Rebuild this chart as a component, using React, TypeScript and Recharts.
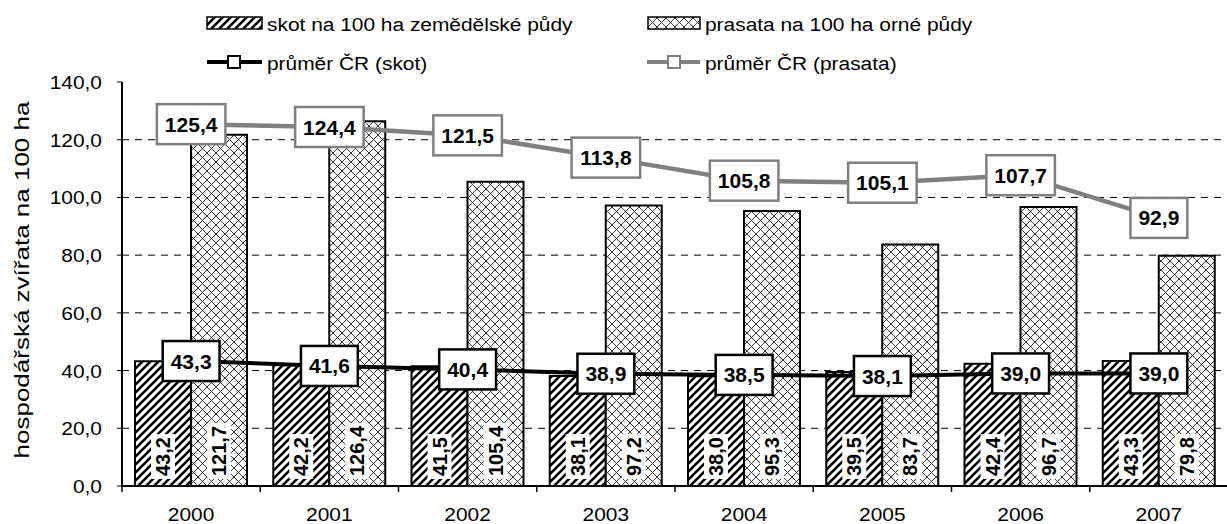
import { ComposedChart, Bar, Line, XAxis, YAxis, CartesianGrid, LabelList } from 'recharts'

const YEARS = ['2000', '2001', '2002', '2003', '2004', '2005', '2006', '2007']
const SKOT = [43.2, 42.2, 41.5, 38.1, 38.0, 39.5, 42.4, 43.3]
const PRASATA = [121.7, 126.4, 105.4, 97.2, 95.3, 83.7, 96.7, 79.8]
const AVG_SKOT = [43.3, 41.6, 40.4, 38.9, 38.5, 38.1, 39.0, 39.0]
const AVG_PRASATA = [125.4, 124.4, 121.5, 113.8, 105.8, 105.1, 107.7, 92.9]
const Y_TICKS = [0, 20, 40, 60, 80, 100, 120, 140]
const GRID_VALUES = [20, 40, 60, 80, 100, 120]

const FONT = '"Liberation Sans", Arial, sans-serif'
const CHART_W = 1228
const CHART_H = 524
const YAXIS_W = 122
const XAXIS_H = 38
const MARGIN = { top: 82, right: 0, bottom: 0, left: 0 }
const HALF_BAND = (CHART_W - YAXIS_W - MARGIN.right - MARGIN.left) / YEARS.length / 2
const FS = 19
const SX = 1.1 // the regular text in the source is a bit wide

const data = YEARS.map((year, i) => ({
  year,
  skot: SKOT[i],
  prasata: PRASATA[i],
  avgSkot: AVG_SKOT[i],
  avgPrasata: AVG_PRASATA[i],
}))

const fmt = (v: number) => v.toFixed(1).replace('.', ',')
const textW = (s: string, size: number) =>
  [...s].reduce((w, c) => w + (c === ',' ? 0.278 : 0.556) * size, 0)

function WText({ x, y, anchor = 'start', rotate = 0, size = FS, sx = SX, children }: any) {
  return (
    <text
      transform={`translate(${x},${y}) rotate(${rotate}) scale(${sx},1)`}
      textAnchor={anchor}
      fontSize={size}
      fill="#000"
      fontFamily={FONT}
    >
      {children}
    </text>
  )
}

// box around the average values
const boxLabel = (border: string) => (props: any) => {
  const { x, y, value } = props
  if (value == null) return null
  const s = fmt(Number(value))
  const w = textW(s, 21) + 16
  const h = 40
  return (
    <g>
      <rect x={x - w / 2} y={y - h / 2} width={w} height={h} fill="#fff" stroke={border} strokeWidth={2.5} />
      <text x={x} y={y + 7.5} textAnchor="middle" fontSize={21} fontWeight="bold" fill="#000" fontFamily={FONT}>
        {s}
      </text>
    </g>
  )
}

// vertical label at the foot of each bar
const barLabel = (props: any) => {
  const { x, y, width, height, value } = props
  if (value == null) return null
  const s = fmt(Number(value))
  const len = textW(s, 20)
  const cx = x + width / 2
  const bottom = y + height - 10
  return (
    <g transform={`translate(${cx},${bottom}) rotate(-90)`}>
      <rect x={-3} y={-12} width={len + 6} height={24} fill="#fff" />
      <text x={0} y={7} fontSize={20} fontWeight="bold" fill="#000" fontFamily={FONT}>
        {s}
      </text>
    </g>
  )
}

const XTick = (props: any) => {
  const { x, y, payload, index } = props
  return (
    <g>
      <line x1={x - HALF_BAND} x2={x - HALF_BAND} y1={y} y2={y + 6} stroke="#000" strokeWidth={1.5} />
      {index === YEARS.length - 1 && (
        <line x1={x + HALF_BAND} x2={x + HALF_BAND} y1={y} y2={y + 6} stroke="#000" strokeWidth={1.5} />
      )}
      <WText x={x} y={y + 35} anchor="middle">
        {payload.value}
      </WText>
    </g>
  )
}

const YTick = (props: any) => {
  const { y, payload } = props
  return (
    <WText x={102} y={y + 7} anchor="end">
      {fmt(payload.value)}
    </WText>
  )
}

function Patterns({ suffix }: { suffix: string }) {
  return (
    <defs>
      <pattern id={`hatch${suffix}`} width={8} height={8} patternUnits="userSpaceOnUse">
        <rect width={8} height={8} fill="#fff" />
        <path d="M-2,2 L2,-2 M0,8 L8,0 M6,10 L10,6" stroke="#000" strokeWidth={2.6} />
      </pattern>
      <pattern id={`cross${suffix}`} width={9} height={9} patternUnits="userSpaceOnUse">
        <rect width={9} height={9} fill="#fff" />
        <path d="M0,0 L9,9 M9,0 L0,9" stroke="#222" strokeWidth={0.9} />
      </pattern>
    </defs>
  )
}

function Overlay() {
  return (
    <svg width={1227} height={524} style={{ position: 'absolute', left: 0, top: 0, pointerEvents: 'none' }}>
      <Patterns suffix="L" />
      <rect x={207} y={17} width={55} height={12} fill="url(#hatchL)" stroke="#000" strokeWidth={1.5} />
      <WText x={267} y={31}>skot na 100 ha zemědělské půdy</WText>
      <rect x={648} y={17} width={52} height={12} fill="url(#crossL)" stroke="#000" strokeWidth={1.5} />
      <WText x={705} y={31}>prasata na 100 ha orné půdy</WText>

      <line x1={207} x2={262} y1={62} y2={62} stroke="#000" strokeWidth={4} />
      <rect x={228} y={56} width={12} height={12} fill="#fff" stroke="#000" strokeWidth={2} />
      <WText x={267} y={70}>průměr ČR (skot)</WText>
      <line x1={647} x2={700} y1={62} y2={62} stroke="#808080" strokeWidth={4} />
      <rect x={668} y={56} width={12} height={12} fill="#fff" stroke="#808080" strokeWidth={2} />
      <WText x={705} y={70}>průměr ČR (prasata)</WText>

      <WText x={29} y={280} anchor="middle" rotate={-90} size={20} sx={1.3}>
        hospodářská zvířata na 100 ha
      </WText>
    </svg>
  )
}

export default function App() {
  return (
    <div
      style={{
        position: 'absolute',
        left: 0,
        top: 0,
        width: 1227,
        height: 524,
        overflow: 'hidden',
        background: '#fff',
        fontFamily: FONT,
      }}
    >
      <ComposedChart width={CHART_W} height={CHART_H} data={data} margin={MARGIN} barGap={0}>
        <Patterns suffix="C" />
        <CartesianGrid vertical={false} stroke="#000" strokeDasharray="7 6" horizontalValues={GRID_VALUES} />
        <XAxis
          dataKey="year"
          height={XAXIS_H}
          axisLine={{ stroke: '#000', strokeWidth: 2 }}
          tickLine={false}
          tickSize={0}
          tickMargin={0}
          tick={<XTick />}
          interval={0}
        />
        <YAxis
          width={YAXIS_W}
          domain={[0, 140]}
          ticks={Y_TICKS}
          axisLine={{ stroke: '#000', strokeWidth: 2 }}
          tickLine={{ stroke: '#000' }}
          tickSize={5}
          tick={<YTick />}
        />
        <Bar dataKey="skot" fill="url(#hatchC)" stroke="#000" strokeWidth={2} barSize={56} isAnimationActive={false}>
          <LabelList dataKey="skot" content={barLabel} />
        </Bar>
        <Bar dataKey="prasata" fill="url(#crossC)" stroke="#000" strokeWidth={2} barSize={56} isAnimationActive={false}>
          <LabelList dataKey="prasata" content={barLabel} />
        </Bar>
        <Line dataKey="avgPrasata" stroke="#808080" strokeWidth={4.5} dot={false} isAnimationActive={false}>
          <LabelList dataKey="avgPrasata" content={boxLabel('#808080')} />
        </Line>
        <Line dataKey="avgSkot" stroke="#000" strokeWidth={4} dot={false} isAnimationActive={false}>
          <LabelList dataKey="avgSkot" content={boxLabel('#000')} />
        </Line>
      </ComposedChart>
      <Overlay />
    </div>
  )
}
